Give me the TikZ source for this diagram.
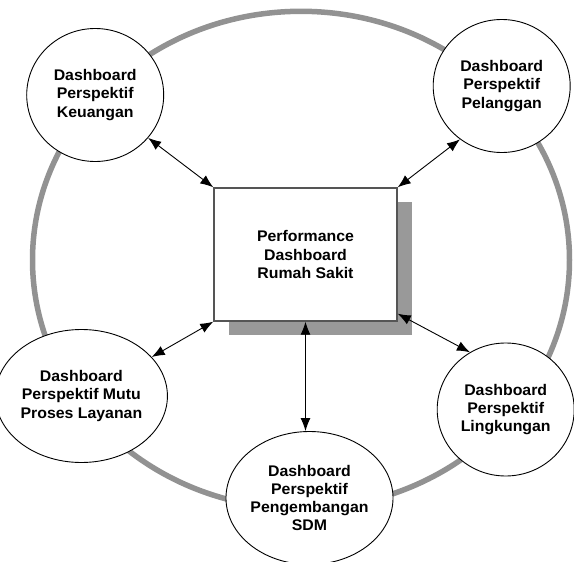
\documentclass[tikz,border=0pt]{standalone}
\usepackage{fontspec}
\setmainfont{Liberation Sans}[FakeStretch=1.03]
\usetikzlibrary{arrows.meta,shapes.geometric,shadows}
\definecolor{ringgray}{RGB}{146,146,146}
\definecolor{shadowgray}{RGB}{153,153,153}
\definecolor{boxborder}{RGB}{85,85,85}
\tikzset{
  lbl/.style={font=\bfseries\fontsize{15.4}{18.3}\selectfont, align=center},
  persp/.style={lbl, ellipse, draw=black, line width=0.9pt, fill=white,
    minimum width=137pt, minimum height=133pt, inner sep=0pt},
  mainbox/.style={lbl, rectangle, draw=boxborder, line width=1.4pt, fill=white,
    minimum width=183pt, minimum height=133pt, inner sep=0pt,
    general shadow={fill=shadowgray, shadow xshift=15pt, shadow yshift=-14pt}},
  ring/.style={draw=ringgray, line width=5.5pt},
  link/.style={line width=0.9pt, {Latex[length=13pt,width=10pt]}-{Latex[length=13pt,width=10pt]}}
}
\begin{document}
\begin{tikzpicture}[x=1pt,y=-1pt]
\useasboundingbox (0,0) rectangle (574,562);
\draw[ring] (301,260) ellipse [x radius=268.5, y radius=248.7];
\node[mainbox] (rect) at (305.5,254.5) {Performance\\Dashboard\\Rumah Sakit};
\node[persp] (keu) at (95.2,95) {Dashboard\\Perspektif\\Keuangan};
\node[persp] (pel) at (501.7,86) {Dashboard\\Perspektif\\Pelanggan};
\node[persp] (mutu) at (81.4,396) {Dashboard\\Perspektif Mutu\\Proses Layanan};
\node[persp] (ling) at (505.7,409.5) {Dashboard\\Perspektif\\Lingkungan};
\node[persp] (sdm) at (309.5,498) {Dashboard\\Perspektif\\Pengembangan\\SDM};
\coordinate (sdmtop) at (rect.south |- sdm.north);
\draw[link] (keu.321) -- (rect.north west);
\draw[link] (pel.232) -- (rect.north east);
\draw[link] (mutu.29) -- (rect.south west);
\draw[link] (ling.122) -- ([yshift=8pt]rect.south east);
\draw[link] (rect.south) -- (sdmtop);
\end{tikzpicture}
\end{document}
